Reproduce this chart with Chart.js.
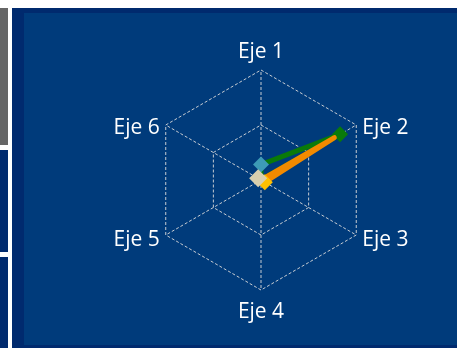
<!DOCTYPE html>
<html lang="es">
<head>
<meta charset="utf-8">
<title>Radar</title>
<script src="https://cdn.jsdelivr.net/npm/chart.js@4.4.1/dist/chart.umd.min.js"></script>
<style>
    html, body {
        margin: 0;
        padding: 0;
        background: #ffffff;
        width: 457px;
        height: 348px;
        overflow: hidden;
    }
    .side-box {
        position: absolute;
        left: 0;
        width: 8px;
    }
    .side-gray { top: 8px; height: 137px; background: #666666; }
    .side-blue-1 { top: 150px; height: 102px; background: #002a6e; }
    .side-blue-2 { top: 257px; height: 91px; background: #002a6e; }
    .frame {
        position: absolute;
        left: 12px;
        top: 8px;
        width: 445px;
        height: 340px;
        background: #002a6e;
    }
    .plot-bg {
        position: absolute;
        left: 24px;
        top: 13px;
        width: 433px;
        height: 332px;
        background: #003b7b;
    }
    #radarChart {
        position: absolute;
        left: 0;
        top: 0;
    }
</style>
</head>
<body>
<div class="side-box side-gray"></div>
<div class="side-box side-blue-1"></div>
<div class="side-box side-blue-2"></div>
<div class="frame"></div>
<div class="plot-bg"></div>
<canvas id="radarChart" width="457" height="348"></canvas>

<script>
// Axis names
const axes = ['Eje 1', 'Eje 2', 'Eje 3', 'Eje 4', 'Eje 5', 'Eje 6'];

// Series values per axis (0-100)
const serie1 = [14, 83, 0, 0, 0, 0];
const serie2 = [0, 77, 4, 0, 0, 3];

// Radial scale range and ring step
const scaleMax = 100;
const scaleStep = 50;

/**
 * Draws the axis names around the hexagon, anchored to the outer vertices
 * given by the radial scale.
 */
const axisLabelsPlugin = {
    id: 'axisLabels',
    afterDraw(chart) {
        const scale = chart.scales.r;
        const ctx = chart.ctx;
        ctx.save();
        ctx.fillStyle = '#ffffff';
        ctx.font = '21px "Open Sans", sans-serif';
        ctx.textBaseline = 'middle';

        axes.forEach((label, i) => {
            const v = scale.getPointPosition(i, scale.drawingArea);
            const dx = v.x - scale.xCenter;
            const dy = v.y - scale.yCenter;

            if (Math.abs(dx) < 1) {
                // top and bottom axes: centred above / below the vertex
                ctx.textAlign = 'center';
                ctx.fillText(label, v.x, dy < 0 ? v.y - 18 : v.y + 22);
            } else {
                ctx.textAlign = dx > 0 ? 'left' : 'right';
                const x = dx > 0 ? v.x + 6 : v.x - 6;
                ctx.fillText(label, x, v.y + 4 + Math.sign(dy));
            }
        });
        ctx.restore();
    }
};

/**
 * Builds the radar chart.
 */
function initializeRadarChart() {
    const ctx = document.getElementById('radarChart');
    if (!ctx) return;

    new Chart(ctx, {
        type: 'radar',
        data: {
            labels: axes,
            datasets: [
                {
                    label: 'Serie 1',
                    data: serie1,
                    order: 1,
                    fill: false,
                    borderColor: '#0a7a0a',
                    borderWidth: 5,
                    borderJoinStyle: 'round',
                    borderCapStyle: 'round',
                    pointStyle: 'rectRot',
                    pointRadius: [8, 8, 0, 0, 0, 0],
                    pointBorderWidth: 0,
                    pointBackgroundColor: ['#3d9bb6', '#0a7a0a', '#0a7a0a', '#0a7a0a', '#0a7a0a', '#0a7a0a'],
                    pointBorderColor: 'rgba(0,0,0,0)'
                },
                {
                    // drawn on top of Serie 1
                    label: 'Serie 2',
                    data: serie2,
                    order: 0,
                    fill: false,
                    borderColor: '#f28a00',
                    borderWidth: 5,
                    borderJoinStyle: 'round',
                    borderCapStyle: 'round',
                    pointStyle: 'rectRot',
                    pointRadius: [0, 0, 8, 0, 0, 9],
                    pointBorderWidth: 0,
                    pointBackgroundColor: ['#f28a00', '#f28a00', '#ffc000', '#f28a00', '#f28a00', '#d8cfae'],
                    pointBorderColor: 'rgba(0,0,0,0)'
                }
            ]
        },
        options: {
            responsive: false,
            animation: false,
            devicePixelRatio: 1,
            layout: {
                padding: { left: 65, right: 0, top: 70, bottom: 58 }
            },
            plugins: {
                legend: { display: false },
                tooltip: { enabled: false }
            },
            elements: {
                line: { tension: 0 }
            },
            scales: {
                r: {
                    min: 0,
                    max: scaleMax,
                    ticks: { stepSize: scaleStep, display: false },
                    pointLabels: { display: false },
                    grid: {
                        color: 'rgba(220,220,220,0.9)',
                        lineWidth: 1
                    },
                    border: { dash: [3, 2] },
                    angleLines: {
                        color: 'rgba(220,220,220,0.9)',
                        lineWidth: 1,
                        borderDash: [3, 2]
                    }
                }
            }
        },
        plugins: [axisLabelsPlugin]
    });
}

document.addEventListener('DOMContentLoaded', initializeRadarChart);
</script>
</body>
</html>
